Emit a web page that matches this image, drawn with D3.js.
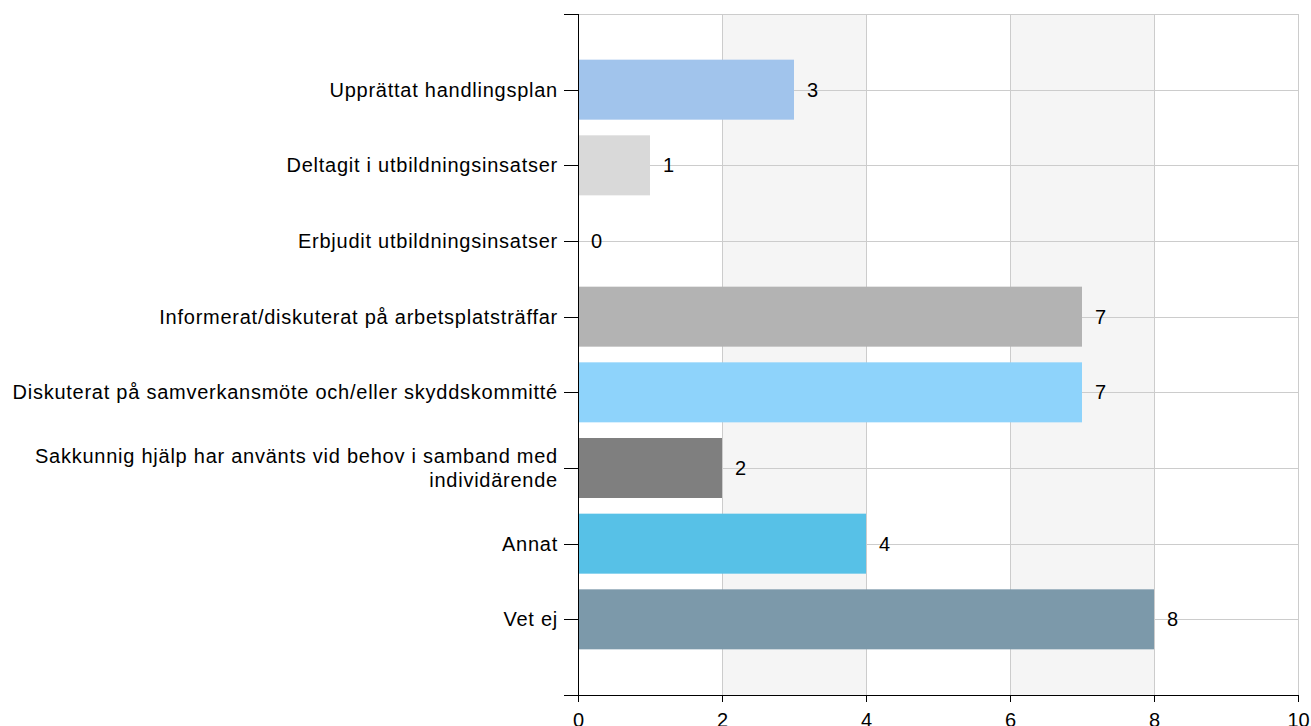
<!DOCTYPE html>
<html>
<head>
<meta charset="utf-8">
<script src="https://cdn.jsdelivr.net/npm/d3@7"></script>
<style>
  body { margin: 0; background: #fff; }
  text { font-family: "Liberation Sans", Arial, sans-serif; }
</style>
</head>
<body>
<div id="chart"></div>
<script>
(function() {

    // chart data
    var categories = [
        ["Upprättat handlingsplan"],
        ["Deltagit i utbildningsinsatser"],
        ["Erbjudit utbildningsinsatser"],
        ["Informerat/diskuterat på arbetsplatsträffar"],
        ["Diskuterat på samverkansmöte och/eller skyddskommitté"],
        ["Sakkunnig hjälp har använts vid behov i samband med", "individärende"],
        ["Annat"],
        ["Vet ej"]
    ];
    var values = [3, 1, 0, 7, 7, 2, 4, 8];
    var barColors = ["#a1c4ec", "#d9d9d9", "#cccccc", "#b3b3b3", "#8ed3fb", "#7f7f7f", "#57c1e7", "#7c99aa"];
    var xTicks = [0, 2, 4, 6, 8, 10];

    var width = 1311;
    var height = 726;
    var left = 578, right = 1298, top = 14, bottom = 695;

    var svg = d3.select("#chart")
        .append("svg")
        .attr("width", width)
        .attr("height", height);

    var x = d3.scaleLinear().domain([0, 10]).range([left, right]);
    var y = d3.scalePoint()
        .domain(d3.range(categories.length))
        .range([top, bottom])
        .padding(1);
    var barH = 60;

    // alternating background bands
    svg.append("g")
        .selectAll("rect")
        .data([[2, 4], [6, 8]])
        .enter().append("rect")
        .attr("x", d => x(d[0]))
        .attr("width", d => x(d[1]) - x(d[0]))
        .attr("y", top)
        .attr("height", bottom - top)
        .attr("fill", "#f5f5f5");

    // grid lines
    var grid = svg.append("g").attr("stroke", "#cccccc").attr("stroke-width", 1);
    grid.selectAll(".v")
        .data(xTicks.slice(1))
        .enter().append("line")
        .attr("x1", d => Math.round(x(d)) + 0.5)
        .attr("x2", d => Math.round(x(d)) + 0.5)
        .attr("y1", top)
        .attr("y2", bottom);
    grid.selectAll(".h")
        .data(d3.range(categories.length))
        .enter().append("line")
        .attr("x1", left)
        .attr("x2", right)
        .attr("y1", d => Math.round(y(d)) + 0.5)
        .attr("y2", d => Math.round(y(d)) + 0.5);
    grid.append("line")
        .attr("x1", left).attr("x2", right)
        .attr("y1", top + 0.5).attr("y2", top + 0.5);

    // bars
    svg.append("g")
        .selectAll("rect")
        .data(values)
        .enter().append("rect")
        .attr("x", x(0))
        .attr("y", (d, i) => y(i) - barH / 2)
        .attr("width", d => x(d) - x(0))
        .attr("height", barH)
        .attr("fill", (d, i) => barColors[i]);

    // value labels
    svg.append("g")
        .selectAll("text")
        .data(values)
        .enter().append("text")
        .attr("x", d => x(d) + 13)
        .attr("y", (d, i) => y(i))
        .attr("dy", "0.35em")
        .attr("font-size", 20)
        .attr("fill", "#000")
        .text(d => d);

    // y axis
    var yAxis = svg.append("g").attr("stroke", "#000");
    yAxis.append("line")
        .attr("x1", left + 0.5).attr("x2", left + 0.5)
        .attr("y1", top).attr("y2", bottom);
    yAxis.append("line")
        .attr("x1", left - 14).attr("x2", left)
        .attr("y1", top + 0.5).attr("y2", top + 0.5);
    yAxis.selectAll(".tick")
        .data(d3.range(categories.length))
        .enter().append("line")
        .attr("x1", left - 14).attr("x2", left)
        .attr("y1", d => Math.round(y(d)) + 0.5)
        .attr("y2", d => Math.round(y(d)) + 0.5);

    // category labels
    svg.append("g")
        .selectAll("text")
        .data(categories)
        .enter().append("text")
        .attr("text-anchor", "end")
        .attr("font-size", 20)
        .attr("letter-spacing", "0.75px")
        .attr("fill", "#000")
        .attr("transform", (d, i) => "translate(" + (left - 20) + "," + y(i) + ")")
        .each(function(d) {
            var t = d3.select(this);
            var lh = 24;
            d.forEach(function(line, j) {
                t.append("tspan")
                    .attr("x", 0)
                    .attr("y", (j - (d.length - 1) / 2) * lh)
                    .attr("dy", "0.35em")
                    .text(line);
            });
        });

    // x axis
    var xAxis = d3.axisBottom(x)
        .tickValues(xTicks)
        .tickSize(7)
        .tickPadding(11)
        .tickFormat(d3.format("d"));
    var gx = svg.append("g")
        .attr("transform", "translate(0," + bottom + ")")
        .call(xAxis);
    gx.select(".domain")
        .attr("d", "M" + (left - 14) + ",0.5H" + right);
    gx.selectAll("text")
        .attr("font-size", 20)
        .attr("font-family", "'Liberation Sans', Arial, sans-serif")
        .attr("fill", "#000");

})();
</script>
</body>
</html>
